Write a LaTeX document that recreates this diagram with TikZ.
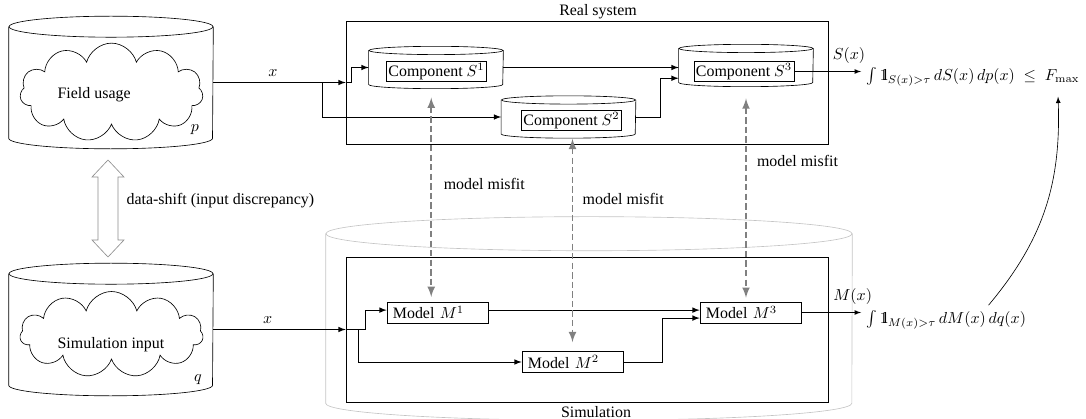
\documentclass[tikz,border=0pt]{standalone}
\usepackage[no-math]{fontspec}
\setmainfont{Liberation Serif}
\usetikzlibrary{shapes.symbols,calc}
\newcommand{\indic}{\mathrm{1\kern-0.28em l}}
% body of a standing cylinder: sides, bottom half ellipse, full top ellipse
\newcommand{\cylout}[4][]{%
  \draw[#1] (#2.north west) -- (#2.south west) arc[start angle=180, end angle=360, x radius=#3, y radius=#4] -- (#2.north east);
  \draw[#1] (#2.north) ellipse[x radius=#3, y radius=#4];
}
\definecolor{misfitgray}{HTML}{808080}
\definecolor{simgray}{HTML}{C4C4C4}
\definecolor{shiftgray}{HTML}{8C8C8C}
\tikzset{
  store/.style={rectangle, inner sep=0pt, minimum width=128.1pt, minimum height=69.7pt},
  comp/.style={rectangle, inner sep=0pt, minimum width=84.2pt, minimum height=21pt},
  compbox/.style={rectangle, draw, inner sep=1.2pt},
  modelbox/.style={rectangle, draw, text width=56pt, inner xsep=3.7pt, inner ysep=1.5pt, minimum height=13.2pt, align=left},
  conn/.style={semithick, -latex},
  misfit/.style={very thick, misfitgray, dash pattern=on 4pt off 2pt, latex-latex}
}
\begin{document}
\begin{tikzpicture}[x=0.628pt, y=-0.628pt]
\useasboundingbox (0,0) rectangle (1086,419);

% inputs
\node[store] (field) at (111,82.5) {};
\cylout{field}{64pt}{6.6pt}
\node[cloud, draw, cloud puffs=11, minimum width=115pt, minimum height=62pt] (fieldcloud) at (111.5,92.5) {};
\node[anchor=west] (fieldtext) at (52,95) {Field usage};
\node (p) at (195,130) {$p$};

\node[store] (sim) at (111,329.5) {};
\cylout{sim}{64pt}{6.6pt}
\node[cloud, draw, cloud puffs=11, minimum width=115pt, minimum height=54pt] (simcloud) at (111.5,334.5) {};
\node[anchor=west] (simtext) at (52,345) {Simulation input};
\node (q) at (198,380) {$q$};

% data shift
\coordinate (shifttop) at (108,160);
\coordinate (shiftbot) at (108,257);
\draw[shiftgray] (shifttop) -- ++(16,17) -- ++(-6,0) -- ($(shiftbot)+(10,-17)$) -- ++(6,0) -- (shiftbot)
  -- ++(-16,-17) -- ++(6,0) -- ($(shifttop)+(-10,17)$) -- ++(-6,0) -- cycle;
\node[anchor=west] (shifttext) at (121,201) {data-shift (input discrepancy)};

% simulation cylinder
\node[rectangle, inner sep=0pt, minimum width=330.3pt, minimum height=106.1pt] (simcyl) at (589,318.5) {};
\cylout[simgray]{simcyl}{165.2pt}{10.7pt}

% real system
\node[rectangle, draw, minimum width=302.7pt, minimum height=77.2pt] (real) at (587,82.5) {};
\node (realtext) at (598,12) {Real system};
\node[comp] (s1) at (436,67.5) {};
\cylout{s1}{42.1pt}{2.6pt}
\node[compbox] (c1) at (436.5,71.5) {Component $S^1$};
\node[comp] (s2) at (568.5,117) {};
\cylout{s2}{42.1pt}{2.6pt}
\node[compbox] (c2) at (571.5,120.5) {Component $S^2$};
\node[comp] (s3) at (746,65.5) {};
\cylout{s3}{42.1pt}{2.6pt}
\node[compbox] (c3) at (744,71.5) {Component $S^3$};

% simulation
\node[rectangle, draw, minimum width=302.7pt, minimum height=91pt] (simbox) at (587,329.5) {};
\node (simlabel) at (596,412) {Simulation};
\node[modelbox] (m1) at (437.5,312.5) {Model $M^1$};
\node[modelbox] (m2) at (572.5,362) {Model $M^2$};
\node[modelbox] (m3) at (750.5,312.5) {Model $M^3$};

% criteria
\node[anchor=west] (fs) at (861,77) {$\int \indic_{S(x)>\tau}\, dS(x)\, dp(x) \;\leq\; F_{\max}$};
\node[anchor=west] (fm) at (861,320) {$\int \indic_{M(x)>\tau}\, dM(x)\, dq(x)$};

\coordinate (forkr) at (322,83);
\coordinate (forks) at (358,330);

\draw[conn] (field.east) -- (real.west |- field.east) node[pos=0.45, above] (xr) {$x$};
\draw[conn] (real.west |- field.east) -- ++(6,0) |- (s1.west);
\draw[conn] (forkr) |- (s2.west);
\draw[conn] (s1.east) -- (s1.east -| s3.west);
\draw[conn] (s2.east) -- ++(25,0) |- ([yshift=-8pt]s3.west);
\draw[-latex] (c3.east) -- (c3.east -| fs.west) node[pos=0.82, above=1.5pt] (sx) {$S(x)$};

\draw[conn] (sim.east) -- (simbox.west |- sim.east) node[pos=0.41, above] (xs) {$x$};
\draw[conn] (simbox.west |- sim.east) -- ++(20,0) |- ([yshift=1.5pt]m1.west);
\draw[conn] (forks) |- (m2.west);
\draw[conn] ([yshift=1.5pt]m1.east) -- ([yshift=1.5pt]m1.east -| m3.west);
\draw[conn] (m2.east) -- ++(39,0) |- ([yshift=-3.5pt]m3.west);
\draw[-latex] (m3.east) -- (m3.east -| fm.west) node[pos=0.86, above=1.5pt] (mx) {$M(x)$};

% misfit
\draw[misfit, shorten <=8.2pt, shorten >=3pt] ([xshift=-3pt]s1.south) -- ([xshift=-3pt]s1.south |- m1.north) node[pos=0.46, right=4pt, text=black] (mis1) {model misfit};
\draw[misfit, shorten <=3pt, shorten >=5.7pt] (s2.south -| m2.north) -- (m2.north) node[pos=0.3, right=2.5pt, text=black] (mis2) {model misfit};
\draw[misfit, shorten <=10pt, shorten >=2.5pt] (s3.south) -- (s3.south |- m3.north) node[pos=0.36, right=3pt, text=black] (mis3) {model misfit};

\draw[-latex] ([xshift=-27pt]fm.north east) to[out=50, in=-88] ([xshift=-17pt, yshift=-3pt]fs.south east);
\end{tikzpicture}
\end{document}
